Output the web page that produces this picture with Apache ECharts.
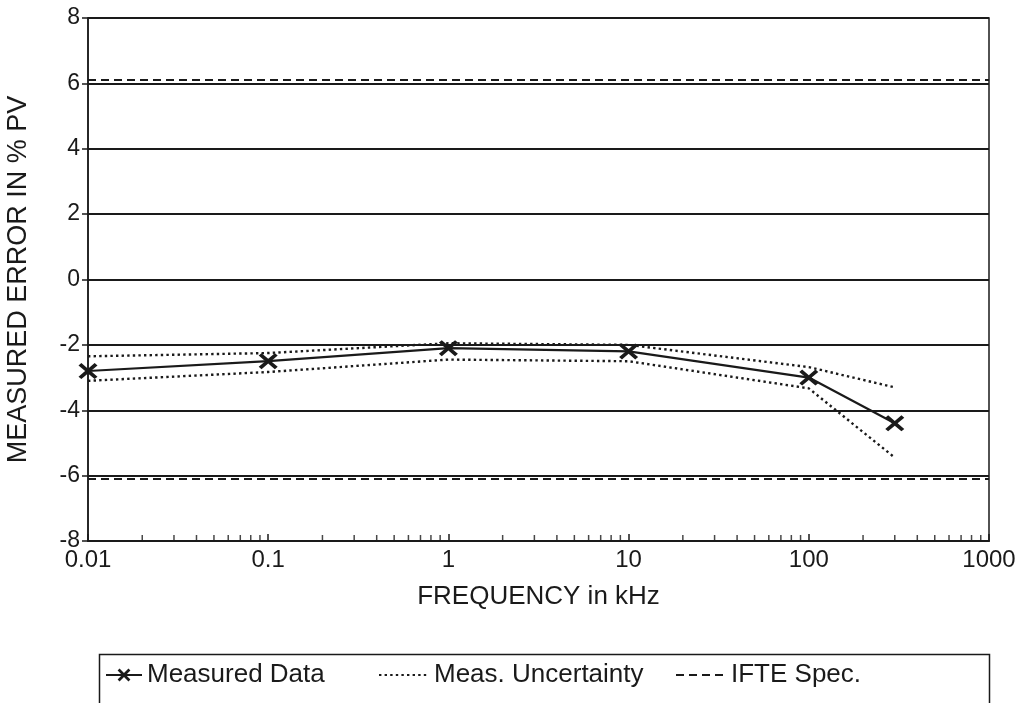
<!DOCTYPE html>
<html>
<head>
<meta charset="utf-8">
<title>Measured error vs frequency</title>
<script src="https://cdn.jsdelivr.net/npm/echarts@6/dist/echarts.min.js"></script>
<style>
  html, body { margin: 0; padding: 0; background: #fff; }
  #chart { width: 1028px; height: 703px; }
</style>
</head>
<body>
<div id="chart"></div>
<script>
// Test frequencies (kHz) and results
const freq = [0.01, 0.1, 1, 10, 100, 300];
const measured = [-2.8, -2.5, -2.1, -2.2, -3.0, -4.4];
const uncUpper = [-2.35, -2.25, -1.95, -2.0, -2.68, -3.3];
const uncLower = [-3.1, -2.83, -2.45, -2.5, -3.33, -5.45];

// IFTE specification limits, drawn across the full frequency span
const specFreq = [0.01, 1000];
const specUpper = [6.1, 6.1];
const specLower = [-6.1, -6.1];

// Log-axis minor tick positions (2..9 within each decade)
const minorTicks = [];
for (let d = -2; d < 3; d++) {
  for (let m = 2; m <= 9; m++) minorTicks.push(m * Math.pow(10, d));
}

const ink = '#1a1a1a';
const font = 'Liberation Sans, Arial, sans-serif';
const pair = (xs, ys) => xs.map((x, i) => [x, ys[i]]);
const xMark = 'path://M0,1.5L1.5,0L5,3.5L8.5,0L10,1.5L6.5,5L10,8.5L8.5,10L5,6.5L1.5,10L0,8.5L3.5,5Z';
const legendText = { color: ink, fontFamily: font, fontSize: 26 };
const noSymbol = { color: 'transparent', borderWidth: 0 };
const dotted = { color: ink, width: 2.4, type: [2.4, 3.2] };
const dashed = { color: ink, width: 2, type: [8, 5] };

const chart = echarts.init(document.getElementById('chart'));
chart.setOption({
  animation: false,
  backgroundColor: '#fff',
  grid: {
    left: 88, right: 39, top: 18, bottom: 162,
    show: true, borderColor: ink, borderWidth: 1.5,
    outerBoundsMode: 'none'
  },
  xAxis: {
    type: 'log', logBase: 10, min: 0.01, max: 1000,
    name: 'FREQUENCY in kHz', nameLocation: 'middle', nameGap: 43,
    nameTextStyle: { color: ink, fontFamily: font, fontSize: 26 },
    axisLine: { onZero: false, lineStyle: { color: ink, width: 2 } },
    axisTick: { inside: true, length: 7, lineStyle: { color: ink, width: 1.5 } },
    axisLabel: {
      color: ink, fontFamily: font, fontSize: 24, margin: 7,
      formatter: v => String(+v.toPrecision(6))
    },
    splitLine: { show: false }
  },
  yAxis: {
    type: 'value', min: -8, max: 8, interval: 2,
    name: 'MEASURED ERROR IN % PV', nameLocation: 'middle', nameGap: 56,
    nameTextStyle: { color: ink, fontFamily: font, fontSize: 27 },
    axisLine: { show: true, lineStyle: { color: ink, width: 1.5 } },
    axisTick: { show: true, length: 6, lineStyle: { color: ink, width: 1.5 } },
    axisLabel: { color: ink, fontFamily: font, fontSize: 23, margin: 8 },
    splitLine: { lineStyle: { color: ink, width: 2.2 } }
  },
  legend: [
    { data: ['Measured Data'], left: 100, top: 657, itemWidth: 36, itemHeight: 16,
      textStyle: legendText },
    { data: ['Meas. Uncertainty'], left: 373, top: 657, itemWidth: 50, itemHeight: 14,
      itemStyle: noSymbol, textStyle: legendText },
    { data: ['IFTE Spec.'], left: 670, top: 657, itemWidth: 50, itemHeight: 14,
      itemStyle: noSymbol, textStyle: legendText }
  ],
  graphic: [{
    type: 'rect', left: 97, top: 652,
    shape: { width: 890, height: 70 },
    style: { fill: 'none', stroke: ink, lineWidth: 1.5 },
    silent: true
  }],
  series: [
    {
      name: 'IFTE Spec.', type: 'line', data: pair(specFreq, specUpper),
      symbol: 'none', lineStyle: dashed, itemStyle: { color: ink }, silent: true
    },
    {
      name: 'IFTE Spec.', type: 'line', data: pair(specFreq, specLower),
      symbol: 'none', lineStyle: dashed, itemStyle: { color: ink }, silent: true
    },
    {
      name: 'Meas. Uncertainty', type: 'line', data: pair(freq, uncUpper),
      symbol: 'none', lineStyle: dotted, itemStyle: { color: ink }, silent: true
    },
    {
      name: 'Meas. Uncertainty', type: 'line', data: pair(freq, uncLower),
      symbol: 'none', lineStyle: dotted, itemStyle: { color: ink }, silent: true
    },
    {
      name: 'Measured Data', type: 'line', data: pair(freq, measured),
      symbol: xMark, symbolSize: [19, 16], showAllSymbol: true,
      lineStyle: { color: ink, width: 2.2 },
      itemStyle: { color: ink }, silent: true
    },
    {
      name: 'minor', type: 'scatter', data: minorTicks.map(f => [f, -8]),
      symbol: 'rect', symbolSize: [1.5, 6], symbolOffset: [0, -3],
      itemStyle: { color: ink }, silent: true, z: 1
    }
  ]
});
</script>
</body>
</html>
